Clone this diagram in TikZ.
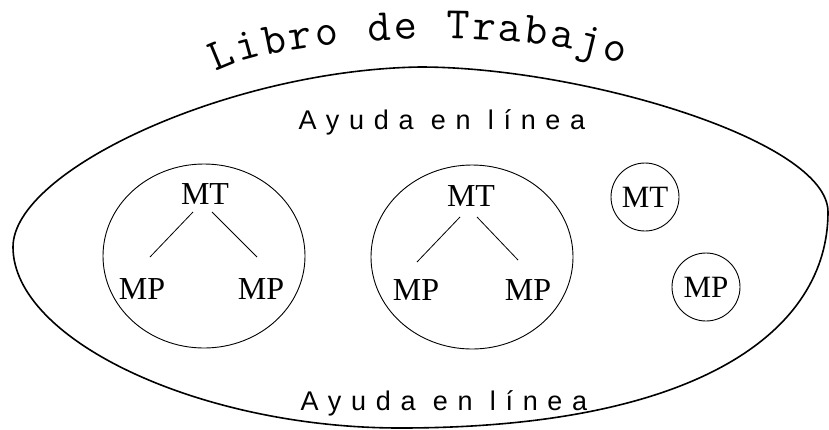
\documentclass[tikz,border=0pt]{standalone}
\usepackage{fontspec}
\usetikzlibrary{decorations.text,shapes.geometric}
\newfontfamily\helpfont[LetterSpace=36]{Liberation Sans}
\newfontfamily\modfont{Liberation Serif}
\begin{document}
\begin{tikzpicture}[x=1pt,y=-1pt,
  modtext/.style={font=\modfont\fontsize{32}{32}\selectfont, inner sep=0pt},
  helptext/.style={font=\helpfont\fontsize{27}{27}\selectfont, inner sep=0pt},
  bigcirc/.style={draw, ellipse, line width=0.9pt, minimum width=202pt, minimum height=184pt, inner sep=0pt},
  smallcirc/.style={draw, circle, line width=0.9pt, minimum size=68pt, inner sep=0pt, font=\modfont\fontsize{31}{31}\selectfont},
  link/.style={line width=0.8pt}]
\useasboundingbox (0,0) rectangle (829,429);
% outer ellipse
\draw[line width=1.6pt] (13,247) .. controls (13,170) and (230,70) .. (420,67)
  .. controls (580,67) and (828,140) .. (828,212)
  .. controls (828,330) and (700,428) .. (400,428)
  .. controls (200,428) and (13,340) .. cycle;
% title along arc
\path[decorate, decoration={text along path, text align=fit to path,
  text={|\ttfamily\fontsize{45}{45}\selectfont|Libro de Trabajo}}]
  (216,72) .. controls (288,33) and (542,26) .. (622,65);
% help texts
\node[helptext] (helptop) at (442,122) {Ayuda en línea};
\node[helptext] (helpbot) at (444,403) {Ayuda en línea};
% big circles
\node[bigcirc] (c1) at (204,256) {};
\node[bigcirc] (c2) at (472,257) {};
% circle 1 contents
\node[modtext] (mt1) at (205,194) {MT};
\node[modtext] (mp1l) at (142,289) {MP};
\node[modtext] (mp1r) at (261,289) {MP};
\coordinate (a1) at (193,212);
\coordinate (b1) at (150,257);
\coordinate (a2) at (212,212);
\coordinate (b2) at (257,257);
\draw[link] (a1) -- (b1);
\draw[link] (a2) -- (b2);
% circle 2 contents
\node[modtext] (mt2) at (471,196) {MT};
\node[modtext] (mp2l) at (416,290) {MP};
\node[modtext] (mp2r) at (528,290) {MP};
\coordinate (a3) at (460,217);
\coordinate (b3) at (417,262);
\coordinate (a4) at (477,217);
\coordinate (b4) at (518,260);
\draw[link] (a3) -- (b3);
\draw[link] (a4) -- (b4);
% small circles
\node[smallcirc] (mt3) at (645,197) {MT};
\node[smallcirc] (mp3) at (706,287) {MP};
\end{tikzpicture}
\end{document}
